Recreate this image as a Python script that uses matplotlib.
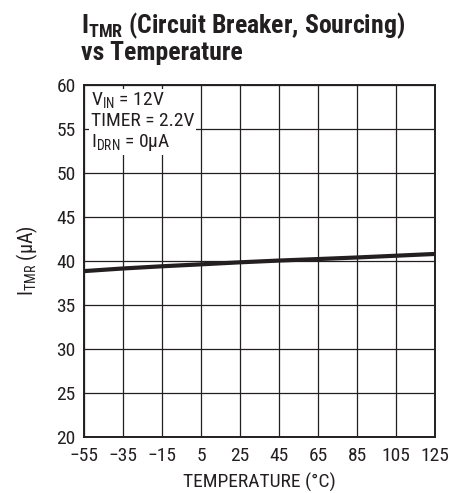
import numpy as np
import matplotlib
matplotlib.use('Agg')
import matplotlib.pyplot as plt

FONT = 'Roboto Condensed'
plt.rcParams['font.family'] = [FONT, 'Encode Sans Condensed', 'DejaVu Sans']
plt.rcParams['mathtext.fontset'] = 'custom'
plt.rcParams['mathtext.rm'] = FONT
plt.rcParams['mathtext.it'] = FONT
plt.rcParams['mathtext.bf'] = FONT + ':bold'

# data
temp = [-55, -35, -15, 5, 25, 45, 65, 85, 105, 125]
itmr = [38.85, 39.15, 39.4, 39.62, 39.85, 40.05, 40.22, 40.4, 40.6, 40.8]

xticks = [-55, -35, -15, 5, 25, 45, 65, 85, 105, 125]
xlabels = ['\u221255', '\u221235', '\u221215', '5', '25', '45', '65', '85', '105', '125']
yticks = [20, 25, 30, 35, 40, 45, 50, 55, 60]

fig = plt.figure(figsize=(4.49, 4.93), dpi=100)
ax = fig.add_axes([0.187, 0.1136, 0.782, 0.714])

ax.plot(temp, itmr, color='#231f20', lw=3, zorder=3)

ax.set_xlim(-55, 125)
ax.set_ylim(20, 60)
ax.set_xticks(xticks)
ax.set_xticklabels(xlabels)
ax.set_yticks(yticks)
ax.tick_params(length=0, labelsize=14, colors='#231f20')
ax.tick_params(axis='x', pad=7)
ax.tick_params(axis='y', pad=6)
ax.grid(True, color='#231f20', lw=0.9, zorder=1)
for s in ax.spines.values():
    s.set_linewidth(1.4)
    s.set_color('#231f20')

ax.set_xlabel('TEMPERATURE (\u00b0C)', fontsize=14, color='#231f20', labelpad=6)
ax.set_ylabel('I$_{\\mathrm{TMR}}$ (\u03bcA)', fontsize=14.5, color='#231f20', labelpad=12)

ax.text(0.02, 0.985, 'V$_{\\mathrm{IN}}$ = 12V\nTIMER = 2.2V\nI$_{\\mathrm{DRN}}$ = 0\u03bcA',
        transform=ax.transAxes, ha='left', va='top', fontsize=14, color='#231f20',
        linespacing=1.12, zorder=4,
        bbox=dict(facecolor='white', edgecolor='none', pad=1.5))

fig.text(0.18, 0.978, 'I$_{\\mathbf{TMR}}$ (Circuit Breaker, Sourcing)\nvs Temperature',
         ha='left', va='top', fontsize=18.5, fontweight='bold', color='#231f20',
         linespacing=0.98)

fig.savefig('out.png', dpi=100)
